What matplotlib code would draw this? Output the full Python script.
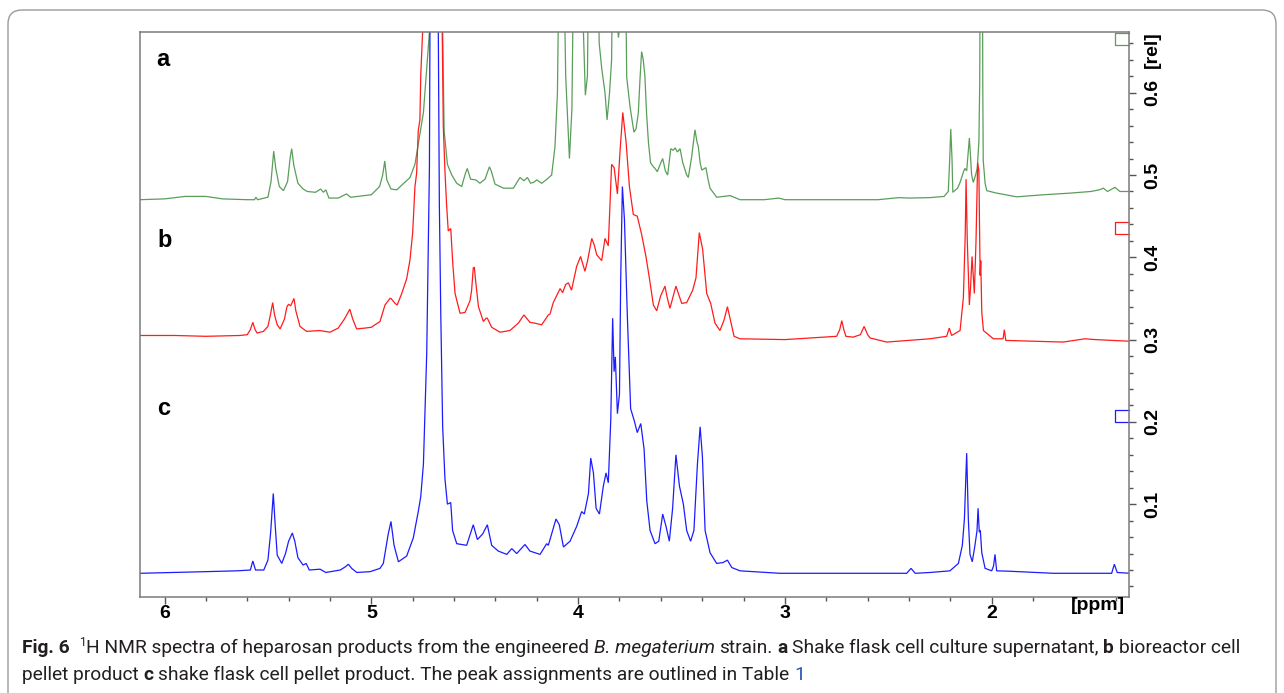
import numpy as np
import matplotlib
matplotlib.use("Agg")
import matplotlib.pyplot as plt
from matplotlib import font_manager
from matplotlib.patches import FancyBboxPatch
from matplotlib.transforms import IdentityTransform
from matplotlib.ticker import FixedLocator, MultipleLocator

# ============ DATA ============
# spectrum a - shake flask supernatant (green)
a_ppm = [6.12, 6.00, 5.90, 5.80, 5.72, 5.60, 5.565, 5.558, 5.55, 5.50, 5.485, 5.472, 5.462,
         5.445, 5.425, 5.405, 5.392, 5.385, 5.375, 5.355, 5.33, 5.31, 5.27, 5.245, 5.232,
         5.22, 5.205, 5.16, 5.12, 5.10, 5.00, 4.96, 4.945, 4.935, 4.925, 4.905, 4.877, 4.86,
         4.813, 4.789, 4.768, 4.748, 4.732, 4.719, 4.71, 4.665, 4.655, 4.648, 4.632, 4.611,
         4.587, 4.563, 4.545, 4.536, 4.52, 4.494, 4.475, 4.45, 4.429, 4.42, 4.402, 4.361,
         4.313, 4.281, 4.262, 4.245, 4.23, 4.216, 4.20, 4.176, 4.15, 4.128, 4.112, 4.10,
         4.088, 4.075, 4.06, 4.042, 4.03, 4.018, 4.00, 3.985, 3.975, 3.965, 3.955, 3.945,
         3.91, 3.898, 3.886, 3.87, 3.86, 3.848, 3.838, 3.83, 3.812, 3.805, 3.795, 3.775,
         3.765, 3.749, 3.73, 3.72, 3.709, 3.70, 3.693, 3.685, 3.677, 3.669, 3.66, 3.65,
         3.636, 3.628, 3.617, 3.60, 3.591, 3.578, 3.567, 3.552, 3.54, 3.531, 3.52, 3.507,
         3.494, 3.475, 3.467, 3.451, 3.44, 3.435, 3.425, 3.419, 3.41, 3.402, 3.382, 3.372,
         3.362, 3.33, 3.265, 3.217, 3.10, 3.03, 3.00, 2.80, 2.55, 2.45, 2.40, 2.30, 2.23,
         2.21, 2.203, 2.198, 2.192, 2.188, 2.165, 2.153, 2.135, 2.129, 2.121, 2.113, 2.108,
         2.103, 2.097, 2.089, 2.078, 2.07, 2.062, 2.058, 2.054, 2.046, 2.043, 2.041, 2.032,
         2.024, 1.976, 1.879, 1.75, 1.621, 1.52, 1.48, 1.46, 1.44, 1.404, 1.38, 1.34]
a_int = [0.470, 0.471, 0.474, 0.474, 0.471, 0.470, 0.470, 0.473, 0.470, 0.473, 0.492, 0.529, 0.508,
         0.486, 0.481, 0.492, 0.522, 0.532, 0.512, 0.490, 0.483, 0.480, 0.479, 0.483, 0.479,
         0.482, 0.472, 0.472, 0.477, 0.473, 0.476, 0.486, 0.500, 0.517, 0.494, 0.483, 0.482, 0.486,
         0.497, 0.513, 0.545, 0.576, 0.630, 0.674, 0.85, 0.85, 0.68, 0.554, 0.513, 0.500,
         0.490, 0.486, 0.502, 0.508, 0.495, 0.494, 0.490, 0.495, 0.510, 0.505, 0.489, 0.484,
         0.484, 0.497, 0.493, 0.497, 0.490, 0.491, 0.494, 0.490, 0.495, 0.500, 0.534, 0.60,
         0.85, 0.85, 0.62, 0.520, 0.58, 0.85, 0.85, 0.85, 0.68, 0.597, 0.62, 0.85,
         0.85, 0.66, 0.630, 0.60, 0.567, 0.60, 0.64, 0.85, 0.69, 0.667, 0.69, 0.85,
         0.619, 0.583, 0.552, 0.556, 0.575, 0.620, 0.650, 0.640, 0.620, 0.575, 0.540, 0.515,
         0.510, 0.508, 0.504, 0.515, 0.520, 0.505, 0.500, 0.532, 0.530, 0.533, 0.528, 0.532,
         0.515, 0.500, 0.497, 0.522, 0.545, 0.555, 0.540, 0.535, 0.515, 0.506, 0.509, 0.495,
         0.484, 0.473, 0.475, 0.470, 0.470, 0.472, 0.470, 0.470, 0.470, 0.4725, 0.472, 0.4725, 0.474,
         0.480, 0.52, 0.556, 0.52, 0.479, 0.484, 0.491, 0.505, 0.508, 0.505, 0.53, 0.545,
         0.525, 0.500, 0.491, 0.500, 0.508, 0.540, 0.61, 0.85, 0.85, 0.60, 0.518, 0.490,
         0.481, 0.478, 0.4735, 0.476, 0.478, 0.480, 0.482, 0.484, 0.480, 0.485, 0.480, 0.480]

# spectrum b - bioreactor cell pellet (red)
b_ppm = [6.12, 5.95, 5.80, 5.635, 5.60, 5.585, 5.573, 5.562, 5.552, 5.522, 5.50, 5.488, 5.477,
         5.468, 5.455, 5.441, 5.42, 5.408, 5.40, 5.39, 5.374, 5.365, 5.345, 5.313, 5.25, 5.20,
         5.16, 5.152, 5.13, 5.104, 5.09, 5.071, 5.03, 5.00, 4.958, 4.934, 4.91, 4.905, 4.885,
         4.875, 4.853, 4.829, 4.813, 4.80, 4.789, 4.781, 4.773, 4.765, 4.761, 4.752, 4.74,
         4.665, 4.652, 4.644, 4.636, 4.628, 4.62, 4.616, 4.606, 4.595, 4.571, 4.547, 4.523,
         4.515, 4.507, 4.502, 4.495, 4.482, 4.458, 4.445, 4.439, 4.418, 4.378, 4.33, 4.289,
         4.262, 4.233, 4.21, 4.176, 4.144, 4.136, 4.12, 4.087, 4.075, 4.06, 4.047, 4.032,
         4.007, 3.988, 3.967, 3.955, 3.934, 3.922, 3.91, 3.886, 3.87, 3.854, 3.838, 3.826,
         3.81, 3.797, 3.784, 3.768, 3.752, 3.733, 3.714, 3.693, 3.672, 3.655, 3.636, 3.62,
         3.601, 3.58, 3.57, 3.556, 3.527, 3.499, 3.475, 3.446, 3.43, 3.414, 3.398, 3.378,
         3.359, 3.338, 3.314, 3.294, 3.278, 3.262, 3.246, 3.217, 3.00, 2.879, 2.75, 2.735,
         2.725, 2.715, 2.705, 2.67, 2.635, 2.617, 2.60, 2.588, 2.508, 2.40, 2.298, 2.218,
         2.205, 2.194, 2.153, 2.137, 2.128, 2.124, 2.118, 2.108, 2.102, 2.095, 2.084, 2.076,
         2.068, 2.062, 2.056, 2.053, 2.048, 2.040, 1.992, 1.945, 1.939, 1.932, 1.80, 1.654,
         1.549, 1.50, 1.331]
b_int = [0.305, 0.305, 0.304, 0.305, 0.306, 0.312, 0.321, 0.312, 0.308, 0.310, 0.316, 0.330, 0.345,
         0.330, 0.318, 0.313, 0.325, 0.340, 0.343, 0.341, 0.350, 0.335, 0.316, 0.310, 0.311, 0.309,
         0.314, 0.317, 0.325, 0.337, 0.325, 0.313, 0.314, 0.315, 0.322, 0.342, 0.350, 0.350, 0.344,
         0.342, 0.356, 0.374, 0.397, 0.430, 0.486, 0.502, 0.554, 0.567, 0.621, 0.674, 0.85,
         0.85, 0.56, 0.505, 0.464, 0.432, 0.434, 0.435, 0.392, 0.356, 0.332, 0.333, 0.347,
         0.360, 0.387, 0.388, 0.370, 0.340, 0.322, 0.326, 0.326, 0.315, 0.309, 0.311, 0.320,
         0.330, 0.321, 0.320, 0.318, 0.330, 0.331, 0.345, 0.362, 0.357, 0.367, 0.369, 0.360,
         0.389, 0.401, 0.383, 0.395, 0.423, 0.415, 0.403, 0.396, 0.423, 0.414, 0.513, 0.509,
         0.477, 0.530, 0.576, 0.540, 0.486, 0.452, 0.450, 0.428, 0.401, 0.374, 0.342, 0.335,
         0.353, 0.365, 0.352, 0.338, 0.365, 0.344, 0.345, 0.360, 0.375, 0.430, 0.410, 0.356,
         0.344, 0.320, 0.311, 0.324, 0.340, 0.322, 0.304, 0.301, 0.300, 0.302, 0.304, 0.312,
         0.323, 0.312, 0.304, 0.303, 0.306, 0.316, 0.306, 0.302, 0.297, 0.299, 0.301, 0.304,
         0.314, 0.305, 0.311, 0.351, 0.428, 0.495, 0.419, 0.342, 0.365, 0.401, 0.356, 0.419,
         0.515, 0.505, 0.378, 0.396, 0.333, 0.311, 0.301, 0.301, 0.312, 0.299, 0.298, 0.297,
         0.301, 0.300, 0.298]

# spectrum c - shake flask cell pellet (blue)
c_ppm = [6.12, 5.95, 5.80, 5.65, 5.585, 5.573, 5.56, 5.52, 5.50, 5.487, 5.474, 5.465, 5.455,
         5.433, 5.415, 5.40, 5.382, 5.37, 5.355, 5.33, 5.315, 5.30, 5.248, 5.22, 5.15, 5.125,
         5.111, 5.095, 5.07, 5.006, 4.958, 4.942, 4.918, 4.905, 4.89, 4.869, 4.829, 4.797,
         4.773, 4.761, 4.748, 4.732, 4.719, 4.713, 4.68, 4.676, 4.671, 4.664, 4.655, 4.644,
         4.632, 4.616, 4.607, 4.587, 4.539, 4.507, 4.487, 4.461, 4.439, 4.418, 4.386, 4.345,
         4.321, 4.297, 4.257, 4.233, 4.184, 4.152, 4.144, 4.107, 4.091, 4.071, 4.039, 4.007,
         3.983, 3.970, 3.95, 3.939, 3.926, 3.913, 3.897, 3.878, 3.865, 3.854, 3.842, 3.833,
         3.826, 3.82, 3.81, 3.80, 3.794, 3.786, 3.776, 3.762, 3.746, 3.728, 3.714, 3.697,
         3.681, 3.668, 3.652, 3.628, 3.61, 3.591, 3.575, 3.559, 3.543, 3.527, 3.51, 3.491,
         3.475, 3.456, 3.44, 3.423, 3.41, 3.399, 3.386, 3.362, 3.33, 3.30, 3.278, 3.257,
         3.217, 3.024, 2.80, 2.411, 2.39, 2.37, 2.298, 2.202, 2.161, 2.142, 2.132, 2.121,
         2.113, 2.105, 2.094, 2.081, 2.071, 2.066, 2.06, 2.055, 2.048, 2.032, 2.0, 1.991,
         1.984, 1.976, 1.912, 1.70, 1.42, 1.407, 1.393, 1.331]
c_int = [0.016, 0.017, 0.018, 0.019, 0.020, 0.031, 0.020, 0.020, 0.032, 0.065, 0.113, 0.075, 0.038,
         0.028, 0.040, 0.055, 0.065, 0.055, 0.035, 0.026, 0.028, 0.020, 0.021, 0.017, 0.020, 0.024,
         0.027, 0.022, 0.017, 0.018, 0.022, 0.028, 0.064, 0.079, 0.050, 0.030, 0.037, 0.059,
         0.091, 0.109, 0.149, 0.284, 0.509, 0.90, 0.90, 0.674, 0.464, 0.329, 0.194, 0.131,
         0.100, 0.102, 0.068, 0.052, 0.050, 0.075, 0.057, 0.064, 0.075, 0.050, 0.043, 0.039,
         0.046, 0.040, 0.051, 0.043, 0.039, 0.052, 0.050, 0.082, 0.075, 0.048, 0.055, 0.073,
         0.091, 0.088, 0.113, 0.156, 0.138, 0.095, 0.088, 0.122, 0.138, 0.126, 0.203, 0.326,
         0.261, 0.279, 0.210, 0.234, 0.374, 0.486, 0.446, 0.329, 0.216, 0.201, 0.187, 0.198,
         0.167, 0.104, 0.068, 0.052, 0.055, 0.088, 0.073, 0.055, 0.095, 0.160, 0.122, 0.100,
         0.068, 0.055, 0.068, 0.149, 0.194, 0.158, 0.068, 0.041, 0.028, 0.029, 0.032, 0.023,
         0.019, 0.016, 0.016, 0.016, 0.022, 0.016, 0.017, 0.019, 0.028, 0.050, 0.082, 0.162,
         0.082, 0.039, 0.030, 0.050, 0.068, 0.095, 0.066, 0.068, 0.041, 0.022, 0.019, 0.025,
         0.039, 0.019, 0.0185, 0.016, 0.016, 0.027, 0.017, 0.016]

# integral markers at the right edge (bottom, top of each box)
box_left = 1.404
box_lo = [0.658, 0.4286, 0.1995]
box_hi = [0.672, 0.4435, 0.215]

x_major = [6, 5, 4, 3, 2]
x_labels = ["6", "5", "4", "3", "2"]
y_major = [0.1, 0.2, 0.3, 0.4, 0.5, 0.6]
y_labels = ["0.1", "0.2", "0.3", "0.4", "0.5", "0.6"]
panel_labels = ["a", "b", "c"]

colors = ["#5a9e5a", "#ff1c1c", "#1c1cff"]

# ============ FONTS ============
avail = {f.name for f in font_manager.fontManager.ttflist}
tick_font = "Liberation Sans Narrow" if "Liberation Sans Narrow" in avail else "Liberation Sans"
cap_font = "Roboto" if "Roboto" in avail else "DejaVu Sans"

W, H = 1284, 693
fig = plt.figure(figsize=(W / 100, H / 100), dpi=100)


def fx(x):
    return x / W


def fy(y):
    return 1 - y / H


ax = fig.add_axes([fx(139.5), fy(597), (1128.5 - 139.5) / W, (597 - 32) / H])

for ppm, inten, col in zip([a_ppm, b_ppm, c_ppm], [a_int, b_int, c_int], colors):
    ax.plot(ppm, inten, color=col, lw=0.9, solid_joinstyle="miter")

x_right = 1.3385
for lo, hi, col in zip(box_lo, box_hi, colors):
    ax.plot([x_right, box_left, box_left, x_right], [hi, hi, lo, lo], color=col, lw=0.9, clip_on=False)

ax.set_xlim(6.121, x_right)
ax.set_ylim(-0.0128, 0.6738)

for s in ax.spines.values():
    s.set_color("#7a7a7a")
    s.set_linewidth(1.1)

ax.set_xticks(x_major)
ax.set_xticklabels(x_labels)
ax.xaxis.set_minor_locator(MultipleLocator(0.2))
ax.yaxis.tick_right()
ax.set_yticks(y_major)
ax.set_yticklabels(y_labels)
ax.yaxis.set_minor_locator(FixedLocator(np.arange(0, 0.67, 0.02)))

ax.tick_params(axis="both", which="major", length=5, width=1, color="#555555",
               labelsize=14, labelcolor="black")
ax.tick_params(axis="both", which="minor", length=3, width=1, color="#555555")
ax.tick_params(axis="x", which="major", pad=1)
ax.tick_params(axis="y", which="major", pad=6, labelrotation=90)
for lbl in ax.get_xticklabels() + ax.get_yticklabels():
    lbl.set_fontfamily(tick_font)
    lbl.set_fontweight("bold")
for lbl in ax.get_yticklabels():
    lbl.set_va("center")

fig.text(fx(1098), fy(605), "[ppm]", fontsize=14, fontfamily=tick_font, fontweight="bold",
         ha="center", va="center")
fig.text(fx(1152), fy(50), "[rel]", fontsize=14, fontfamily=tick_font, fontweight="bold",
         rotation=90, ha="center", va="center")

for lab, (px, py) in zip(panel_labels, [(163, 59), (165, 240), (164, 408)]):
    fig.text(fx(px), fy(py), lab, fontsize=17, fontweight="bold", fontfamily="Liberation Sans",
             ha="center", va="center")

# ============ CAPTION ============
renderer = fig.canvas.get_renderer()


def text_width(s, size, weight="normal", style="normal"):
    t = fig.text(0, 0, s, fontsize=size, fontfamily=cap_font, fontweight=weight, fontstyle=style)
    w = t.get_window_extent(renderer).width
    t.remove()
    return w


line1 = [("Fig. 6", "bold"), ("  ", "gap"), ("1", "sup"),
         ("H NMR spectra of heparosan products from the engineered", "reg"), (" ", "gap"),
         ("B. megaterium", "ital"), (" ", "gap"), ("strain.", "reg"), (" ", "gap"),
         ("a", "bold"), (" ", "gap"), ("Shake flask cell culture supernatant,", "reg"), (" ", "gap"),
         ("b", "bold"), (" ", "gap"), ("bioreactor cell", "reg")]
line2 = [("pellet product", "reg"), (" ", "gap"), ("c", "bold"), (" ", "gap"),
         ("shake flask cell pellet product. The peak assignments are outlined in Table", "reg"),
         (" ", "gap"), ("1", "link")]


def draw_runs(runs, x0, y, size):
    arts = []
    x = x0
    sp = text_width("x x", size) - text_width("xx", size)
    for s, kind in runs:
        if kind == "gap":
            x += sp * len(s)
            continue
        kw = dict(fontsize=size, fontfamily=cap_font, ha="left", va="baseline", color="#231f20")
        yy = y
        if kind == "bold":
            kw["fontweight"] = "bold"
        elif kind == "ital":
            kw["fontstyle"] = "italic"
        elif kind == "sup":
            kw["fontsize"] = size * 0.62
            yy = y - size * 0.5
        elif kind == "link":
            kw["color"] = "#2a53b8"
        t = fig.text(fx(x), fy(yy), s, **kw)
        arts.append(t)
        x += t.get_window_extent(renderer).width
    return arts, x


size = 12
arts, x_end = draw_runs(line1, 22, 653, size)
for t in arts:
    t.remove()
size = size * (1238 - 22) / (x_end - 22)
draw_runs(line1, 22, 653, size)
draw_runs(line2, 22, 680, size)

# rounded frame around the whole figure
frame = FancyBboxPatch((8, -30), 1268, 693 - 10 + 30, boxstyle="round,pad=0,rounding_size=14",
                       transform=IdentityTransform(), facecolor="none", edgecolor="#9a9a9a", lw=1.0)
fig.add_artist(frame)

fig.savefig("out.png", dpi=100)
